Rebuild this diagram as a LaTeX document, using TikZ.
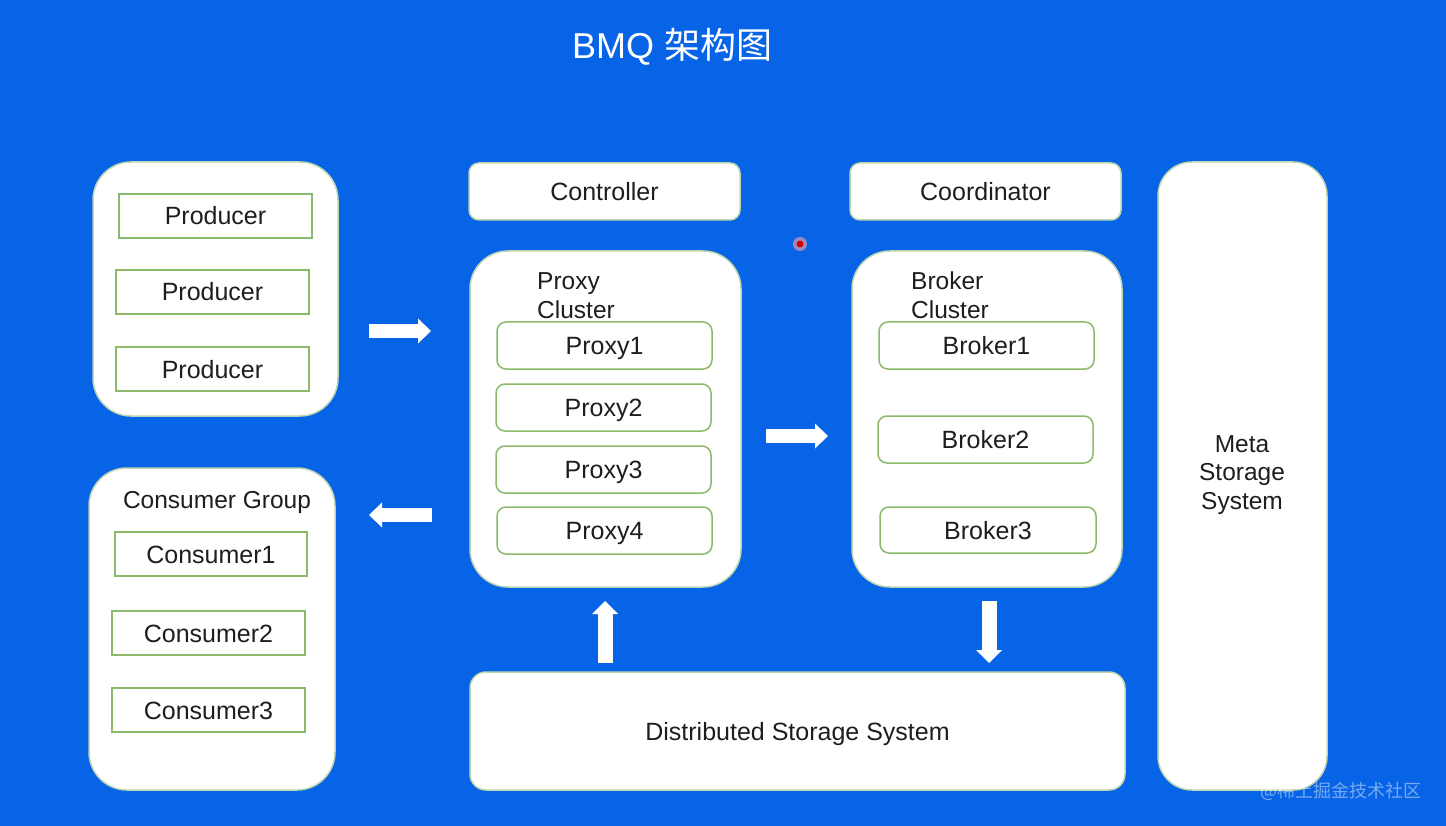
\documentclass[tikz,border=0pt]{standalone}
\usepackage{fontspec}
\setmainfont{Liberation Sans}
\newfontfamily\cjk{Noto Sans CJK SC}
\usetikzlibrary{arrows.meta}
\definecolor{bg}{RGB}{8,100,230}
\definecolor{grpline}{RGB}{190,214,178}
\definecolor{itemline}{RGB}{140,186,106}
\definecolor{txt}{RGB}{30,30,30}
\tikzset{
  grp/.style={draw=grpline, line width=1.5pt, fill=white, rounded corners=38pt, inner sep=0pt},
  lowbox/.style={draw=grpline, line width=1.5pt, fill=white, rounded corners=10pt, inner sep=0pt, text=txt, font=\fontsize{25}{29}\selectfont, text height=18pt, text depth=0pt},
  item/.style={draw=itemline, line width=1.5pt, fill=white, inner sep=0pt, text=txt, font=\fontsize{25}{28}\selectfont, text height=18pt, text depth=0pt},
  ritem/.style={item, rounded corners=9pt},
  lbl/.style={text=txt, font=\fontsize{24.5}{29}\selectfont, inner sep=0pt},
  blockarrow/.style={draw=white, line width=14pt, -{Triangle[length=13pt,width=25pt,line width=0pt]}},
  vblockarrow/.style={draw=white, line width=15pt, -{Triangle[length=13pt,width=26pt,line width=0pt]}}
}
\begin{document}
\begin{tikzpicture}[x=1pt,y=-1pt]
\fill[bg] (0,0) rectangle (1446,826);
\useasboundingbox (0,0) rectangle (1446,826);

% title
\node[text=white, font=\fontsize{36}{40}\selectfont, inner sep=0pt] (title) at (672,47) {BMQ {\cjk 架构图}};

% producers
\node[grp, minimum width=245pt, minimum height=254pt] (prod) at (215.5,289) {};
\node[item, minimum width=193pt, minimum height=44pt] (p1) at (215.5,216) {Producer};
\node[item, minimum width=193pt, minimum height=44pt] (p2) at (212.5,292) {Producer};
\node[item, minimum width=193pt, minimum height=44pt] (p3) at (212.5,369) {Producer};

% consumers
\node[grp, minimum width=246pt, minimum height=322pt] (cons) at (212,629) {};
\node[lbl] (cg) at (217,502) {Consumer Group};
\node[item, minimum width=192pt, minimum height=44pt] (c1) at (211,554) {Consumer1};
\node[item, minimum width=193pt, minimum height=44pt] (c2) at (208.5,633) {Consumer2};
\node[item, minimum width=193pt, minimum height=44pt] (c3) at (208.5,710) {Consumer3};

% controller / coordinator
\node[lowbox, minimum width=271pt, minimum height=57pt] (ctrl) at (604.5,191.5) {Controller};
\node[lowbox, minimum width=271pt, minimum height=57pt] (coord) at (985.5,191.5) {Coordinator};

% proxy cluster
\node[grp, minimum width=271pt, minimum height=336pt] (proxy) at (605.5,419) {};
\node[lbl, align=left, anchor=west] (proxylbl) at (537,295.5) {Proxy\\Cluster};
\node[ritem, minimum width=215pt, minimum height=47pt] (px1) at (604.5,345.5) {Proxy1};
\node[ritem, minimum width=215pt, minimum height=47pt] (px2) at (603.5,407.5) {Proxy2};
\node[ritem, minimum width=215pt, minimum height=47pt] (px3) at (603.5,469.5) {Proxy3};
\node[ritem, minimum width=215pt, minimum height=47pt] (px4) at (604.5,530.5) {Proxy4};

% broker cluster
\node[grp, minimum width=270pt, minimum height=336pt] (broker) at (987,419) {};
\node[lbl, align=left, anchor=west] (brokerlbl) at (911,295.5) {Broker\\Cluster};
\node[ritem, minimum width=215pt, minimum height=47pt] (b1) at (986.5,345.5) {Broker1};
\node[ritem, minimum width=215pt, minimum height=47pt] (b2) at (985.5,439.5) {Broker2};
\node[ritem, minimum width=216pt, minimum height=46pt] (b3) at (988,530) {Broker3};

% meta storage
\node[grp, rounded corners=34pt, minimum width=169pt, minimum height=628pt] (meta) at (1242.5,476) {};
\node[lbl, align=center, font=\fontsize{24.5}{28.5}\selectfont] (metalbl) at (1242,475) {Meta\\Storage\\System};

% distributed storage
\node[lowbox, rounded corners=16pt, minimum width=655pt, minimum height=118pt] (dss) at (797.5,731) {Distributed Storage System};

% block arrows
\coordinate (a1s) at (369,331);  \coordinate (a1e) at (431,331);
\coordinate (a2s) at (432,515);  \coordinate (a2e) at (369,515);
\coordinate (a3s) at (766,436);  \coordinate (a3e) at (828,436);
\coordinate (a4s) at (605,663);  \coordinate (a4e) at (605,601);
\coordinate (a5s) at (989,601);  \coordinate (a5e) at (989,663);
\draw[blockarrow] (a1s) -- (a1e);
\draw[blockarrow] (a2s) -- (a2e);
\draw[blockarrow] (a3s) -- (a3e);
\draw[vblockarrow] (a4s) -- (a4e);
\draw[vblockarrow] (a5s) -- (a5e);

% pointer dot
\fill[red!35!white, opacity=0.6] (800,244) circle (7);
\fill[red!85!black] (800,244) circle (3.5);

% watermark
\node[text=white, opacity=0.45, font=\cjk\fontsize{18}{20}\selectfont, inner sep=0pt] (wm) at (1341,791) {@稀土掘金技术社区};
\end{tikzpicture}
\end{document}
